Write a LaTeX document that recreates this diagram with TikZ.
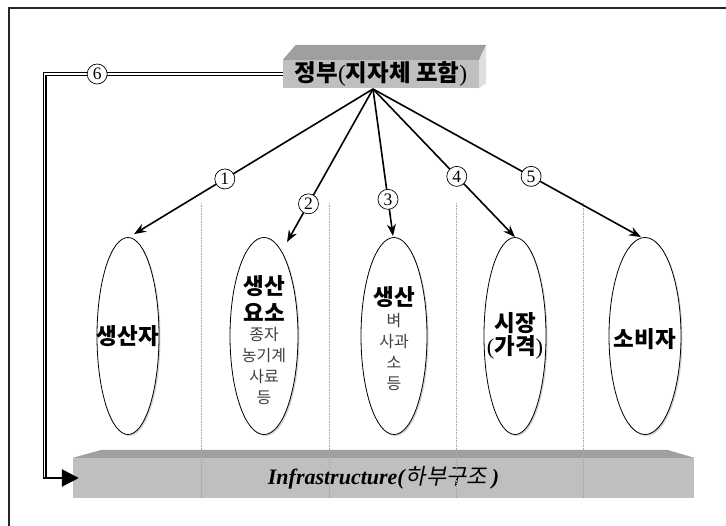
\documentclass[tikz,border=0pt]{standalone}
\usepackage{fontspec}
\setmainfont{Liberation Serif}
\newfontfamily\kr{Noto Sans CJK KR}
\newfontfamily\krsl{Noto Sans CJK KR}[FakeSlant=0.2]
\usetikzlibrary{arrows.meta,shapes.geometric,shadows}

\tikzset{
  oval/.style={ellipse,draw,thick,fill=white,minimum height=197pt,inner sep=0pt,
    drop shadow={shadow xshift=1.5pt,shadow yshift=-1.5pt,fill=gray!70}},
  big/.style={font=\kr\bfseries\fontsize{22.5}{27}\selectfont,align=center,inner sep=0pt},
  small/.style={font=\kr\fontsize{16}{21}\selectfont,text=black!75,align=center,inner sep=0pt},
  num/.style={circle,draw,fill=white,inner sep=0pt,minimum size=20pt,line width=.7pt,
    font=\fontsize{17.5}{17.5}\selectfont},
  sep/.style={densely dotted,gray!70,line width=.6pt}
}

\begin{document}
\begin{tikzpicture}[x=1pt,y=-1pt,>={Stealth[length=12pt,width=9pt]},node distance=130pt]
\useasboundingbox (0,0) rectangle (726,526);

% frame
\draw[line width=2pt,black!85] (9,526) -- (9,8) -- (726,8);

% government box
\node[fill=gray!50,minimum width=196pt,minimum height=28pt,inner sep=0pt,
  font=\kr\bfseries\fontsize{23.5}{23.5}\selectfont] (gov) at (381,74)
  {정부{\rmfamily\mdseries(}지자체 포함{\rmfamily\mdseries)}};
\fill[gray!75] (gov.north west) -- ++(13,-15) -- ([xshift=7pt,yshift=15pt]gov.north east)
  -- (gov.north east) -- cycle;
\fill[gray!25] (gov.north east) -- ([xshift=7pt,yshift=15pt]gov.north east)
  -- ([xshift=7pt,yshift=5pt]gov.south east) -- (gov.south east) -- cycle;
\coordinate (hub) at (373,89);

% infrastructure
\node[fill=gray!50,minimum width=621pt,minimum height=40pt,inner sep=0pt,
  font=\fontsize{22}{22}\selectfont] (infra) at (383.5,478)
  {\bfseries\itshape Infrastructure(\kern1pt{\krsl\mdseries 하부구조}\kern5pt)};
\fill[gray!75] (infra.north west) -- ++(29,-8) -- ([xshift=-27pt,yshift=8pt]infra.north east)
  -- (infra.north east) -- cycle;

\foreach \x in {201,329,456,583}
  \draw[sep] (\x,203) -- (\x,498);

% ellipses
\node[oval,minimum width=62pt] (e1) at (128,336) {};
\node[oval,minimum width=68pt] (e2) [right of=e1,xshift=6pt] {};
\node[oval,minimum width=66pt] (e3) [right of=e2] {};
\node[oval,minimum width=62pt] (e4) [right of=e3,xshift=-9pt] {};
\node[oval,minimum width=72pt] (e5) [right of=e4] {};

\node[big] (l1) at (e1) {생산자};
\node[big] (l2a) at ([yshift=37pt]e2) {생산\\요소};
\node[small] (l2b) at ([yshift=-30pt]e2) {종자\\농기계\\사료\\등};
\node[big] (l3a) at ([yshift=39pt]e3) {생산};
\node[small] (l3b) at ([yshift=-16pt]e3) {벼\\사과\\소\\등};
\node[big] (l4) at (e4) {시장\\[-4pt]{\rmfamily\mdseries(}가격{\rmfamily\mdseries)}};
\node[big] (l5) at ([yshift=-3pt]e5) {소비자};

\path[->,line width=1.6pt] (hub) edge node[num,pos=.62] {1} ([xshift=6pt,yshift=3pt]e1.north)
  edge node[num,pos=.75] {2} ([xshift=23pt,yshift=-5pt]e2.north)
  edge node[num,pos=.75] {3} ([xshift=-1pt,yshift=1pt]e3.north)
  edge node[num,pos=.59] {4} (e4.north)
  edge node[num,pos=.59] {5} ([xshift=-4pt]e5.north);

% feedback line
\coordinate (bend) at ([xshift=-28pt]infra.west);
\draw[line width=1.3pt,double,double distance=1.2pt] (gov.west) -| (bend);
\path (gov.west) -| node[num,pos=.39] {6} (bend);
\draw[line width=2.6pt,-{Triangle[length=17pt,width=17pt]},shorten <=-1.9pt,shorten >=-6pt]
  (bend) -- (infra.west);

\end{tikzpicture}
\end{document}
